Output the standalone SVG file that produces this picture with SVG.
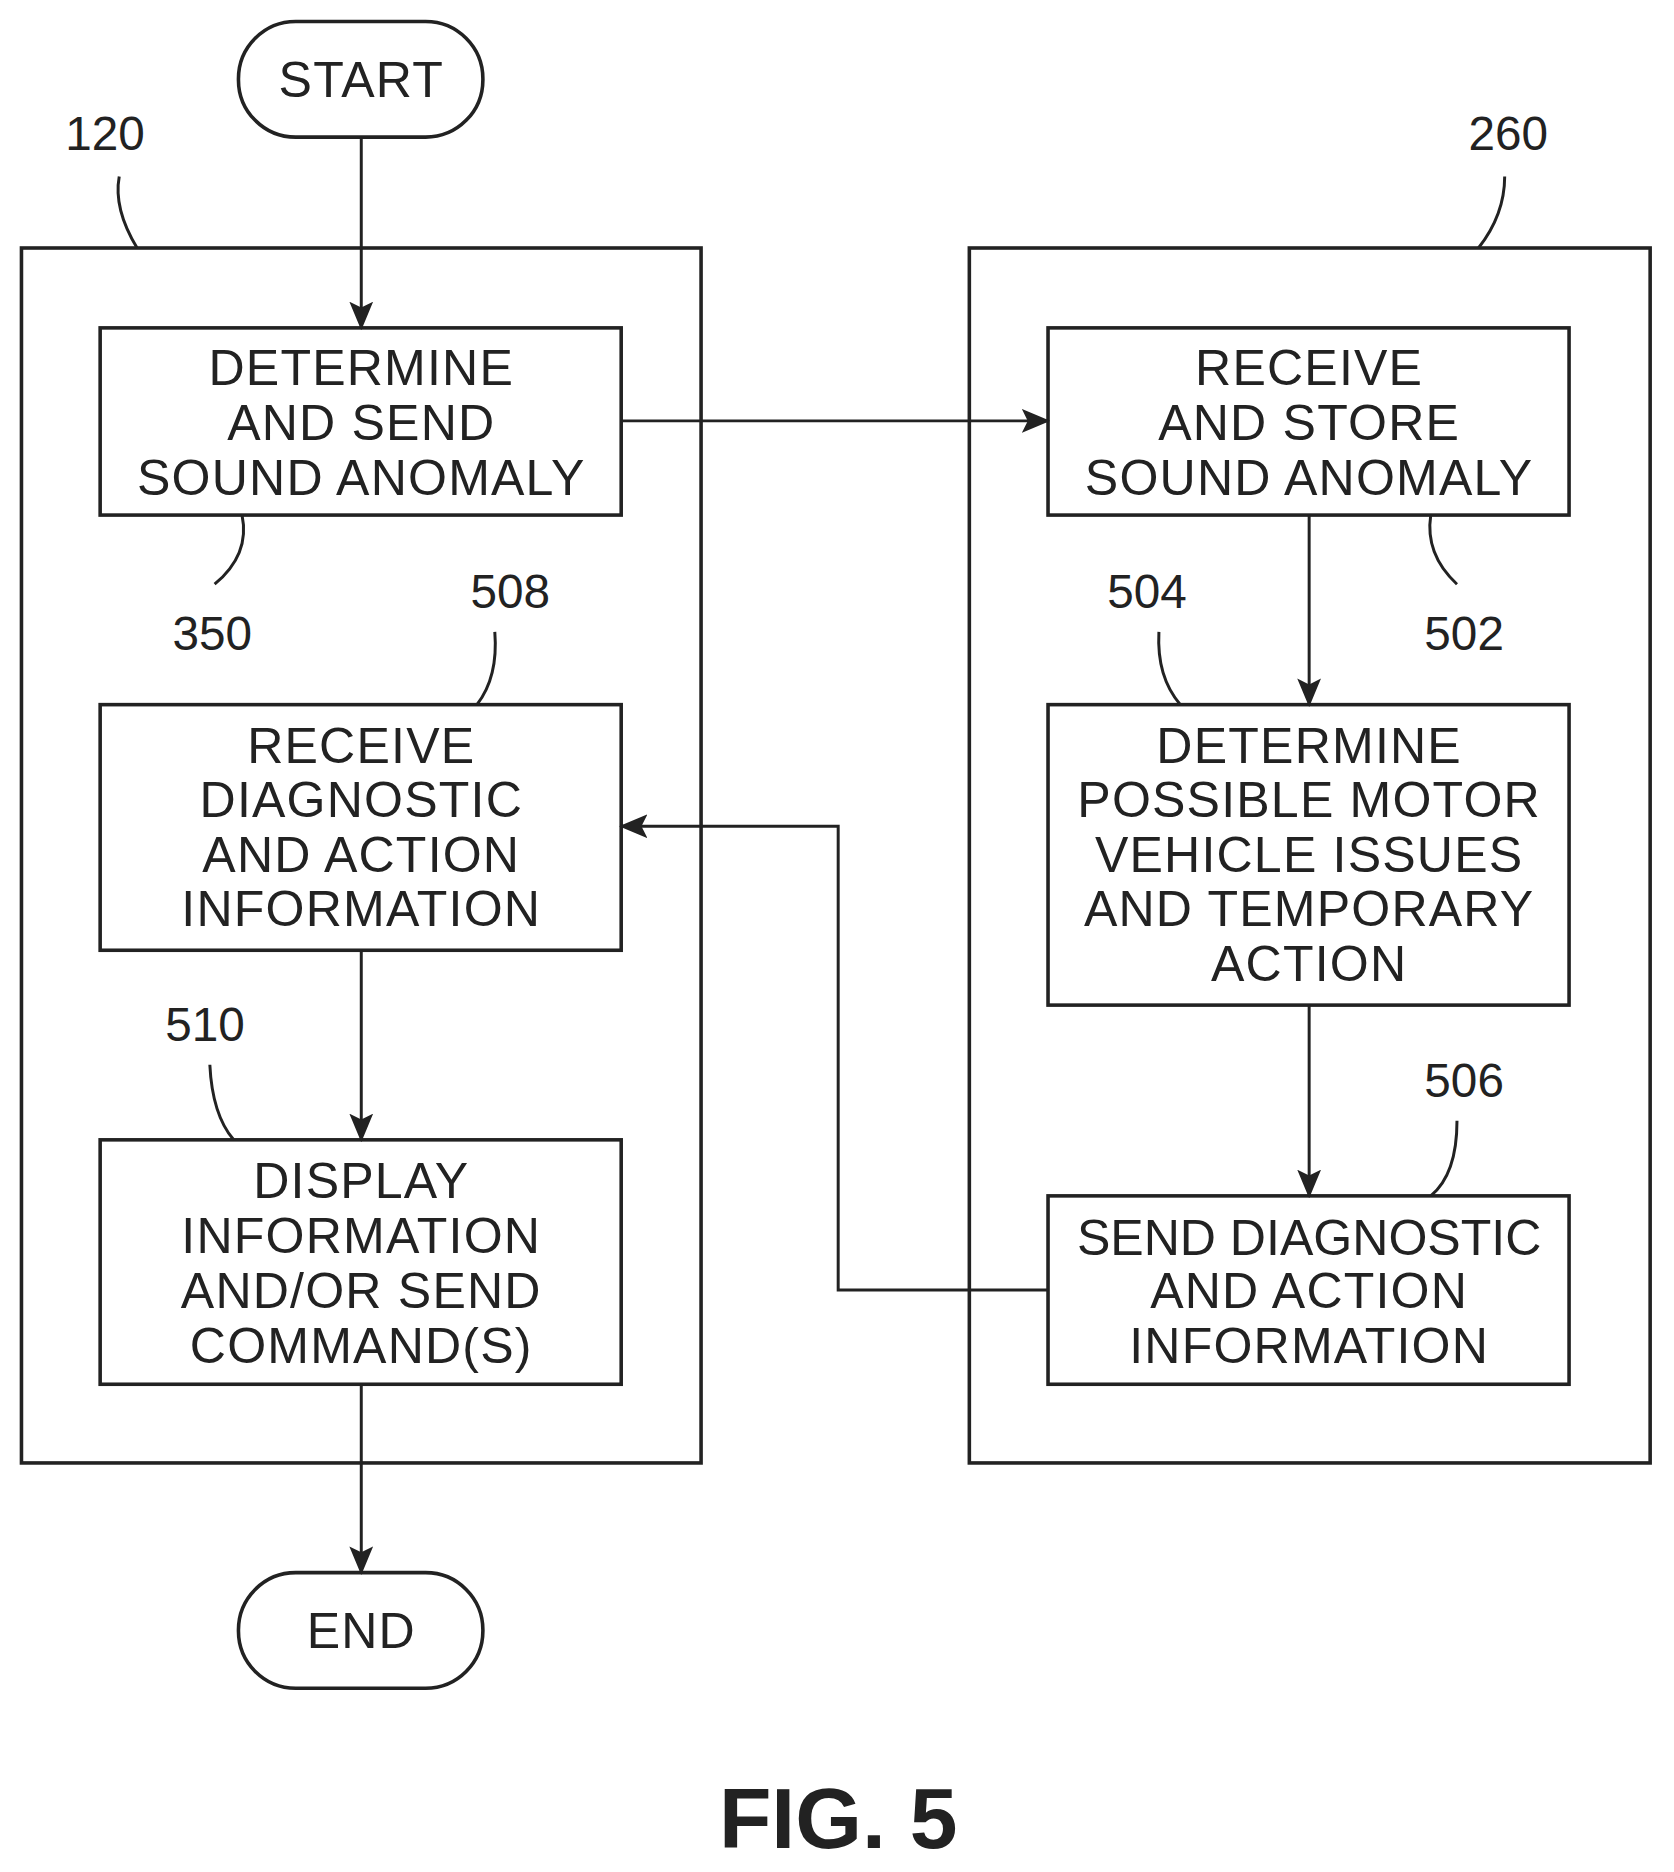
<svg xmlns="http://www.w3.org/2000/svg" width="1674" height="1872" viewBox="0 0 1674 1872">
<style>
.b{fill:none;stroke:#222;stroke-width:3}
.t{font-family:"Liberation Sans",Arial,sans-serif;font-size:42px;fill:#222;text-anchor:middle;letter-spacing:1px}
.n{font-family:"Liberation Sans",Arial,sans-serif;font-size:40px;fill:#222;text-anchor:middle}
.c{fill:none;stroke:#222;stroke-width:2.5}
</style>
<defs><marker id="a" markerWidth="24" markerHeight="20" refX="22" refY="10" orient="auto" markerUnits="userSpaceOnUse"><path d="M0,0 L24,10 L0,20 L5,10 Z" fill="#222"/></marker></defs>
<rect width="1674" height="1872" fill="#fff"/>
<g transform="scale(1.1923)">
<g id="c120"><rect class="b" x="18" y="208" width="570" height="1019"/><text class="n" x="88" y="126">120</text><path class="c" d="M100,148 Q95,175 115,208"/></g>
<g id="c260"><rect class="b" x="813" y="208" width="571" height="1019"/><text class="n" x="1265" y="126">260</text><path class="c" d="M1262,148 Q1262,180 1240,208"/></g>
<g id="start"><rect class="b" x="200" y="18" width="205" height="97" rx="48"/><text class="t" x="303" y="81">START</text></g>
<g id="end"><rect class="b" x="200" y="1319" width="205" height="97" rx="48"/><text class="t" x="303" y="1382">END</text></g>
<g id="n350"><rect class="b" x="84" y="275" width="437" height="157"/><text class="t" x="303" y="323">DETERMINE</text><text class="t" x="303" y="369">AND SEND</text><text class="t" x="303" y="415">SOUND ANOMALY</text><text class="n" x="178" y="545">350</text><path class="c" d="M203,432 Q210,465 180,490"/></g>
<g id="n508"><rect class="b" x="84" y="591" width="437" height="206"/><text class="t" x="303" y="640">RECEIVE</text><text class="t" x="303" y="685">DIAGNOSTIC</text><text class="t" x="303" y="731">AND ACTION</text><text class="t" x="303" y="777">INFORMATION</text><text class="n" x="428" y="510">508</text><path class="c" d="M415,530 Q418,568 400,591"/></g>
<g id="n510"><rect class="b" x="84" y="956" width="437" height="205"/><text class="t" x="303" y="1005">DISPLAY</text><text class="t" x="303" y="1051">INFORMATION</text><text class="t" x="303" y="1097">AND/OR SEND</text><text class="t" x="303" y="1143">COMMAND(S)</text><text class="n" x="172" y="873">510</text><path class="c" d="M176,893 Q178,935 196,956"/></g>
<g id="n502"><rect class="b" x="879" y="275" width="437" height="157"/><text class="t" x="1098" y="323">RECEIVE</text><text class="t" x="1098" y="369">AND STORE</text><text class="t" x="1098" y="415">SOUND ANOMALY</text><text class="n" x="1228" y="545">502</text><path class="c" d="M1200,432 Q1195,465 1222,490"/></g>
<g id="n504"><rect class="b" x="879" y="591" width="437" height="252"/><text class="t" x="1098" y="640">DETERMINE</text><text class="t" x="1098" y="685">POSSIBLE MOTOR</text><text class="t" x="1098" y="731">VEHICLE ISSUES</text><text class="t" x="1098" y="777">AND TEMPORARY</text><text class="t" x="1098" y="823">ACTION</text><text class="n" x="962" y="510">504</text><path class="c" d="M972,530 Q970,568 990,591"/></g>
<g id="n506"><rect class="b" x="879" y="1003" width="437" height="158"/><text class="t" x="1098" y="1053" style="letter-spacing:0">SEND DIAGNOSTIC</text><text class="t" x="1098" y="1097">AND ACTION</text><text class="t" x="1098" y="1143">INFORMATION</text><text class="n" x="1228" y="920">506</text><path class="c" d="M1222,940 Q1222,985 1200,1003"/></g>
<g id="connectors">
<path class="c" d="M303,115 V275" marker-end="url(#a)"/>
<path class="c" d="M521,353 H879" marker-end="url(#a)"/>
<path class="c" d="M1098,432 V591" marker-end="url(#a)"/>
<path class="c" d="M1098,843 V1003" marker-end="url(#a)"/>
<path class="c" d="M879,1082 H703 V693 H521" marker-end="url(#a)"/>
<path class="c" d="M303,797 V956" marker-end="url(#a)"/>
<path class="c" d="M303,1161 V1319" marker-end="url(#a)"/>
</g>
<text x="703" y="1550" style="font-family:'Liberation Sans',Arial,sans-serif;font-size:72px;font-weight:bold;fill:#222;text-anchor:middle">FIG. 5</text>
</g>
</svg>
